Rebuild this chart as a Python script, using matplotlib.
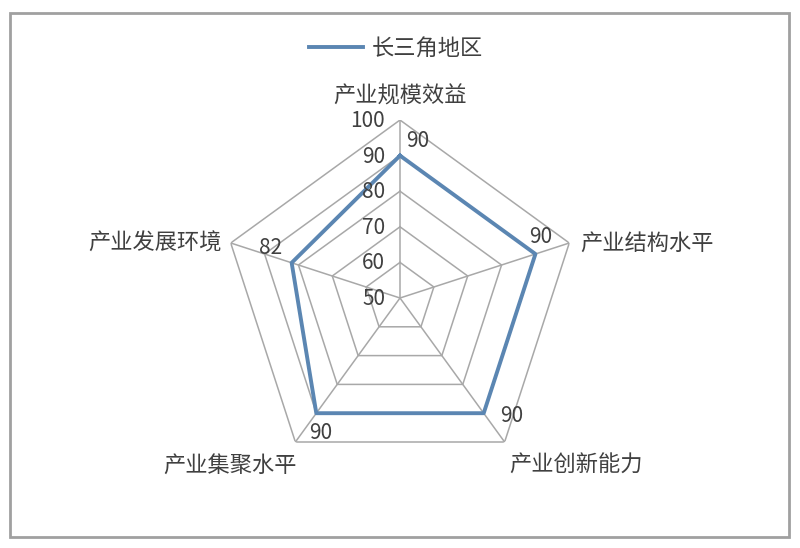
import numpy as np
import matplotlib
matplotlib.use('Agg')
import matplotlib.pyplot as plt
from matplotlib.patches import Rectangle

plt.rcParams['font.family'] = ['Noto Sans CJK SC', 'DejaVu Sans']

# 数据
categories = ['产业规模效益', '产业结构水平', '产业创新能力', '产业集聚水平', '产业发展环境']
values = [90, 90, 90, 90, 82]
series_name = '长三角地区'
ticks = [50, 60, 70, 80, 90, 100]

line_color = '#5b86b2'
grid_color = '#a8a8a8'
text_color = '#404040'

n = len(categories)
angles = np.linspace(0, 2 * np.pi, n, endpoint=False)
closed = np.append(angles, angles[0])

fig = plt.figure(figsize=(8, 5.48), dpi=100)
ax = fig.add_axes([0.2775, 0.1314, 0.445, 0.6496], projection='polar')
ax.set_theta_zero_location('N')
ax.set_theta_direction(-1)
ax.set_ylim(50, 100)
ax.grid(False)
ax.spines['polar'].set_visible(False)
ax.set_xticks([])
ax.set_yticks([])
ax.patch.set_alpha(0)

# 网格 (五边形)
for t in ticks[1:]:
    ax.plot(closed, [t] * (n + 1), color=grid_color, lw=1.1, zorder=1)
for a in angles:
    ax.plot([a, a], [50, 100], color=grid_color, lw=1.1, zorder=1)

# 数据线
line, = ax.plot(closed, values + [values[0]], color=line_color, lw=2.8,
                zorder=3, label=series_name)

# 刻度标签
for t in ticks:
    ax.annotate(str(t), (0, t), xytext=(-15, -1), textcoords='offset pixels',
                ha='right', va='center', fontsize=15, color=text_color)

# 类别标签
cat_offsets = [(0, 24, 'center'), (11, 0, 'left'), (5, -23, 'left'),
               (1, -23, 'right'), (-9, 0, 'right')]
for a, c, (dx, dy, ha) in zip(angles, categories, cat_offsets):
    ax.annotate(c, (a, 100), xytext=(dx, dy), textcoords='offset pixels',
                ha=ha, va='center', fontsize=16, color=text_color,
                annotation_clip=False)

# 数据标签
val_offsets = [(18, 15), (5, 17), (28, -3), (4, -20), (-21, 15)]
for a, v, (dx, dy) in zip(angles, values, val_offsets):
    ax.annotate(str(v), (a, v), xytext=(dx, dy), textcoords='offset pixels',
                ha='center', va='center', fontsize=15, color=text_color)

fig.legend(handles=[line], loc='center', bbox_to_anchor=(0.495, 0.912),
           frameon=False, fontsize=16, handlelength=2.4, handletextpad=0.4,
           labelcolor=text_color)

# 外框
fig.patches.append(Rectangle((0.0125, 0.02), 0.974, 0.956, transform=fig.transFigure,
                             fill=False, edgecolor='#a0a0a0', lw=2))

fig.savefig('out.png', dpi=100)
